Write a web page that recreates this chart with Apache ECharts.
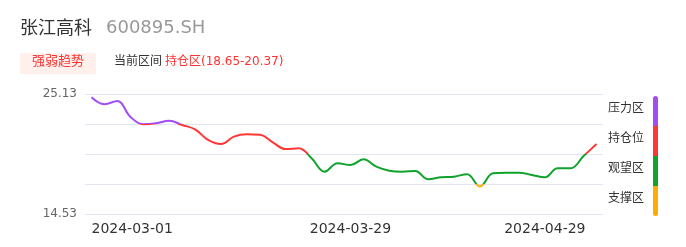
<!DOCTYPE html>
<html>
<head>
<meta charset="utf-8">
<script src="https://cdn.jsdelivr.net/npm/echarts@6/dist/echarts.min.js"></script>
<style>
  html, body { margin: 0; padding: 0; background: #fff; }
  #chart { width: 686px; height: 247px; }
</style>
</head>
<body>
<div id="chart"></div>
<script>
// ---- data ----
const stockName = '张江高科';
const stockCode = '600895.SH';
const badgeText = '强弱趋势';
const rangeLabel = '当前区间';
const rangeValue = '持仓区(18.65-20.37)';

const dates = [
  '2024-03-01','2024-03-04','2024-03-05','2024-03-06','2024-03-07','2024-03-08',
  '2024-03-11','2024-03-12','2024-03-13','2024-03-14','2024-03-15',
  '2024-03-18','2024-03-19','2024-03-20','2024-03-21','2024-03-22',
  '2024-03-25','2024-03-26','2024-03-27','2024-03-28','2024-03-29',
  '2024-04-01','2024-04-02','2024-04-03',
  '2024-04-08','2024-04-09','2024-04-10','2024-04-11','2024-04-12',
  '2024-04-15','2024-04-16','2024-04-17','2024-04-18','2024-04-19',
  '2024-04-22','2024-04-23','2024-04-24','2024-04-25','2024-04-26',
  '2024-04-29'
];
const values = [
  24.84, 24.22, 24.51, 23.12, 22.45, 22.54,
  22.77, 22.39, 22.01, 21.07, 20.71,
  21.36, 21.57, 21.53, 20.86, 20.27,
  20.33, 19.45, 18.27, 19.01, 18.86,
  19.36, 18.71, 18.35,
  18.27, 18.33, 17.60, 17.77, 17.83,
  18.04, 16.96, 18.13, 18.18, 18.18,
  17.98, 17.77, 18.57, 18.57, 19.65,
  20.71
];
const xLabelDates = ['2024-03-01', '2024-03-29', '2024-04-29'];
const yTickLabels = ['14.53', '25.13'];
const yMin = 14.53, yMax = 25.13, yStep = 2.65;
const zoneNames = ['压力区', '持仓位', '观望区', '支撑区'];
const zoneColors = ['#a24cf5', '#ff3636', '#0fa22c', '#ffab00'];
const zoneBounds = [22.48, 19.83, 17.18];

const FONT = "'DejaVu Sans', 'Noto Sans CJK SC', sans-serif";
const chart = echarts.init(document.getElementById('chart'), null, { renderer: 'canvas' });

const lastIdx = dates.length - 1;

// legend graphics
const legendGraphics = [];
const segTop = 96, segH = 30;
zoneNames.forEach((name, i) => {
  legendGraphics.push({
    type: 'text', left: 608, top: segTop + i * segH + 15 - 8,
    style: { text: name, fill: '#333', font: '12px ' + FONT }
  });
  let r = [0, 0, 0, 0];
  if (i === 0) r = [2.5, 2.5, 0, 0];
  if (i === zoneNames.length - 1) r = [0, 0, 2.5, 2.5];
  legendGraphics.push({
    type: 'rect', left: 653, top: segTop + i * segH,
    shape: { width: 5, height: segH, r: r },
    style: { fill: zoneColors[i] }
  });
});

const option = {
  animation: false,
  backgroundColor: '#fff',
  grid: { left: 85, right: 83, top: 94, bottom: 33 },
  xAxis: {
    type: 'category',
    data: dates,
    boundaryGap: true,
    axisLine: { show: false },
    axisTick: { show: false },
    axisLabel: {
      interval: (idx, val) => xLabelDates.indexOf(val) >= 0,
      color: '#333',
      fontSize: 14,
      fontFamily: FONT,
      margin: 8,
      alignMinLabel: 'left',
      alignMaxLabel: 'right',
      formatter: (val, idx) => idx === lastIdx ? '{last|' + val + '}' : val,
      rich: { last: { padding: [0, 11, 0, 0], fontSize: 14, color: '#333', fontFamily: FONT } }
    }
  },
  yAxis: {
    type: 'value',
    min: yMin, max: yMax, interval: yStep,
    axisLine: { show: false },
    axisTick: { show: false },
    splitLine: { lineStyle: { color: '#e1e6f2', width: 1 } },
    axisLabel: {
      color: '#666', fontSize: 12, fontFamily: FONT, margin: 8,
      formatter: v => {
        const s = v.toFixed(2);
        return yTickLabels.indexOf(s) >= 0 ? s : '';
      }
    }
  },
  visualMap: {
    show: false,
    type: 'piecewise',
    dimension: 1,
    seriesIndex: 0,
    pieces: [
      { gte: zoneBounds[0], color: zoneColors[0] },
      { gte: zoneBounds[1], lt: zoneBounds[0], color: zoneColors[1] },
      { gte: zoneBounds[2], lt: zoneBounds[1], color: zoneColors[2] },
      { lt: zoneBounds[2], color: zoneColors[3] }
    ]
  },
  series: [{
    type: 'line',
    data: values,
    smooth: 0.4,
    showSymbol: false,
    lineStyle: { width: 2 }
  }],
  graphic: [
    { type: 'text', left: 20, top: 20, style: { text: stockName, fill: '#333', font: '18px ' + FONT } },
    { type: 'text', left: 106, top: 19, style: { text: stockCode, fill: '#999', font: '18px ' + FONT } },
    { type: 'rect', left: 20, top: 53, shape: { width: 76, height: 21 }, style: { fill: '#fff0ec' } },
    { type: 'text', left: 32, top: 55, style: { text: badgeText, fill: '#ff3333', font: '13px ' + FONT } },
    { type: 'text', left: 114, top: 56, style: { text: rangeLabel, fill: '#333', font: '12px ' + FONT } },
    { type: 'text', left: 165, top: 56, style: { text: rangeValue, fill: '#ff3333', font: '12px ' + FONT } }
  ].concat(legendGraphics)
};
chart.setOption(option);
</script>
</body>
</html>
